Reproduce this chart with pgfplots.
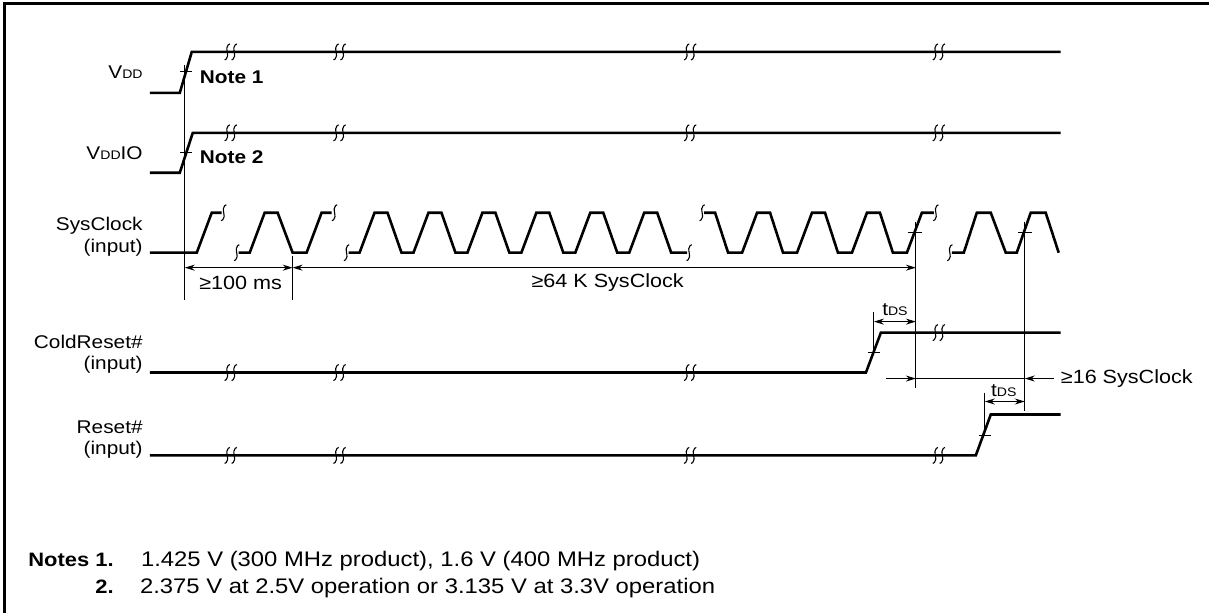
\documentclass[border=0pt]{standalone}
\usepackage{pgfplots}
\pgfplotsset{compat=1.18}
\usetikzlibrary{arrows.meta}
\usepackage{fontspec}
\setmainfont{Liberation Sans}[FakeStretch=1.13]

\newcommand\lab{\fontsize{18.5}{21}\selectfont}
\newcommand\dlab{\fontsize{19.2}{22}\selectfont}
\newcommand\notef{\fontsize{21.2}{25}\selectfont}
\newcommand\noteb{\fontsize{19.5}{23}\selectfont\bfseries}
\newcommand\sm[1]{{\fontsize{12.5}{14}\selectfont #1}}

\pgfplotsset{
 sig/.style={black, line width=2.6bp, line join=miter, line cap=butt},
 thn/.style={black, line width=1bp},
 brk/.style={black, line width=1.1bp, smooth},
 arr/.style={thn, arrows={Stealth[length=10bp,width=6bp]-Stealth[length=10bp,width=6bp]}},
 arrR/.style={thn, arrows={-Stealth[length=10bp,width=6bp]}},
}
\newcommand\brkS[2]{\addplot[brk, x filter/.expression={x+#1}, y filter/.expression={y+#2}] coordinates {(2.6,-8) (0.9,-7) (-0.4,-4) (0,0) (0.4,4) (-0.9,7) (-2.6,8)};}
\newcommand\brkD[2]{\brkS{#1-3.5}{#2}\brkS{#1+3.5}{#2}}

\begin{document}
\begin{tikzpicture}
\begin{axis}[
  width=1210bp, height=614bp, scale only axis,
  xmin=0, xmax=1210, ymin=0, ymax=614, y dir=reverse,
  hide axis, clip=false,
]
% bounding box
\addplot[draw=none] coordinates {(0,0) (1210,614)};
% frame
\addplot[black, line width=3bp] coordinates {(5,614) (5,4) (1210,4)};

% VDD
\addplot[sig] coordinates {(150,93) (180,93) (192,52) (1062,52)};
\brkD{231}{52}\brkD{340}{52}\brkD{691}{52}\brkD{940}{52}
\addplot[thn] coordinates {(180,72) (192,72)};
% VDDIO
\addplot[sig] coordinates {(150,173) (180,173) (193,133) (1062,133)};
\brkD{231}{133}\brkD{340}{133}\brkD{691}{133}\brkD{940}{133}
\addplot[thn] coordinates {(180,153) (192,153)};

% SysClock
\addplot[sig] coordinates {(150,253) (197,253) (212,213) (222,213)};
\brkS{224}{213}
\addplot[sig] coordinates {(239,253) (250,253) (265,213) (278,213) (293,253) (307,253) (322,213) (332,213)};
\brkS{237}{253}\brkS{335}{213}
\addplot[sig] coordinates {(349,253) (360,253)
 (375,213) (388,213) (402,253) (414,253)
 (429,213) (442,213) (456,253) (468,253)
 (483,213) (496,213) (510,253) (522,253)
 (537,213) (550,213) (564,253) (576,253)
 (591,213) (604,213) (618,253) (630,253)
 (645,213) (658,213) (672,253) (688,253)};
\brkS{347}{253}\brkS{690}{253}
\addplot[sig] coordinates {(705,213) (716,213) (729,253) (743,253)
 (758,213) (771,213) (784,253) (798,253)
 (813,213) (826,213) (839,253) (853,253)
 (868,213) (881,213) (894,253) (908,253)
 (923,213) (935,213)};
\brkS{703}{213}\brkS{937}{213}
\addplot[sig] coordinates {(953,253) (965,253) (978,213) (992,213) (1007,253) (1018,253) (1032,213) (1047,213) (1060,253)};
\brkS{951}{253}
\addplot[thn] coordinates {(909,233) (923,233)};
\addplot[thn] coordinates {(1019,233) (1033,233)};

% ColdReset#
\addplot[sig] coordinates {(150,373) (867,373) (882,333) (1062,333)};
\brkD{231}{373}\brkD{340}{373}\brkD{691}{373}\brkD{940}{333}
\addplot[thn] coordinates {(869,353) (881,353)};
% Reset#
\addplot[sig] coordinates {(150,456) (977,456) (992,415) (1062,415)};
\brkD{231}{456}\brkD{340}{456}\brkD{691}{456}\brkD{940}{456}
\addplot[thn] coordinates {(980,436) (992,436)};

% reference lines
\addplot[thn] coordinates {(185,65) (185,300)};
\addplot[thn] coordinates {(293,256) (293,300)};
\addplot[thn] coordinates {(917,222) (917,388)};
\addplot[thn] coordinates {(1026,222) (1026,412)};
\addplot[thn] coordinates {(875,312) (875,353)};
\addplot[thn] coordinates {(986,393) (986,436)};

% dimension arrows
\addplot[arr] coordinates {(185,268) (293,268)};
\addplot[arr] coordinates {(293,268) (917,268)};
\addplot[arr] coordinates {(875,322) (917,322)};
\addplot[arr] coordinates {(986,402) (1026,402)};
\addplot[arrR] coordinates {(887,379) (917,379)};
\addplot[arrR] coordinates {(1055,379) (1026,379)};
\addplot[thn] coordinates {(917,379) (1026,379)};

% texts
\node[anchor=base east, inner sep=0] at (143,79) {\lab V\sm{DD}};
\node[anchor=base east, inner sep=0] at (143,160) {\lab V\sm{DD}IO};
\node[anchor=base east, inner sep=0] at (143,231) {\lab SysClock};
\node[anchor=base east, inner sep=0] at (143,253) {\lab (input)};
\node[anchor=base east, inner sep=0] at (143,349) {\lab ColdReset\#};
\node[anchor=base east, inner sep=0] at (143,370) {\lab (input)};
\node[anchor=base east, inner sep=0] at (143,434) {\lab Reset\#};
\node[anchor=base east, inner sep=0] at (143,455) {\lab (input)};

\node[anchor=base west, inner sep=0] at (200,84) {\lab\bfseries Note 1};
\node[anchor=base west, inner sep=0] at (200,164) {\lab\bfseries Note 2};

\node[anchor=center, inner sep=0] at (241,283) {\dlab ≥100 ms};
\node[anchor=west, inner sep=0] at (532,283) {\dlab ≥64 K SysClock};
\node[anchor=center, inner sep=0] at (896,310) {\lab t\sm{DS}};
\node[anchor=center, inner sep=0] at (1005,391) {\lab t\sm{DS}};
\node[anchor=west, inner sep=0] at (1062,379) {\dlab ≥16 SysClock};

\node[anchor=base east, inner sep=0] at (114,567) {\noteb Notes 1.};
\node[anchor=base west, inner sep=0] at (141,567) {\notef 1.425 V (300 MHz product), 1.6 V (400 MHz product)};
\node[anchor=base east, inner sep=0] at (114,594) {\noteb 2.};
\node[anchor=base west, inner sep=0] at (140,594) {\notef 2.375 V at 2.5V operation or 3.135 V at 3.3V operation};
\end{axis}
\end{tikzpicture}
\end{document}
